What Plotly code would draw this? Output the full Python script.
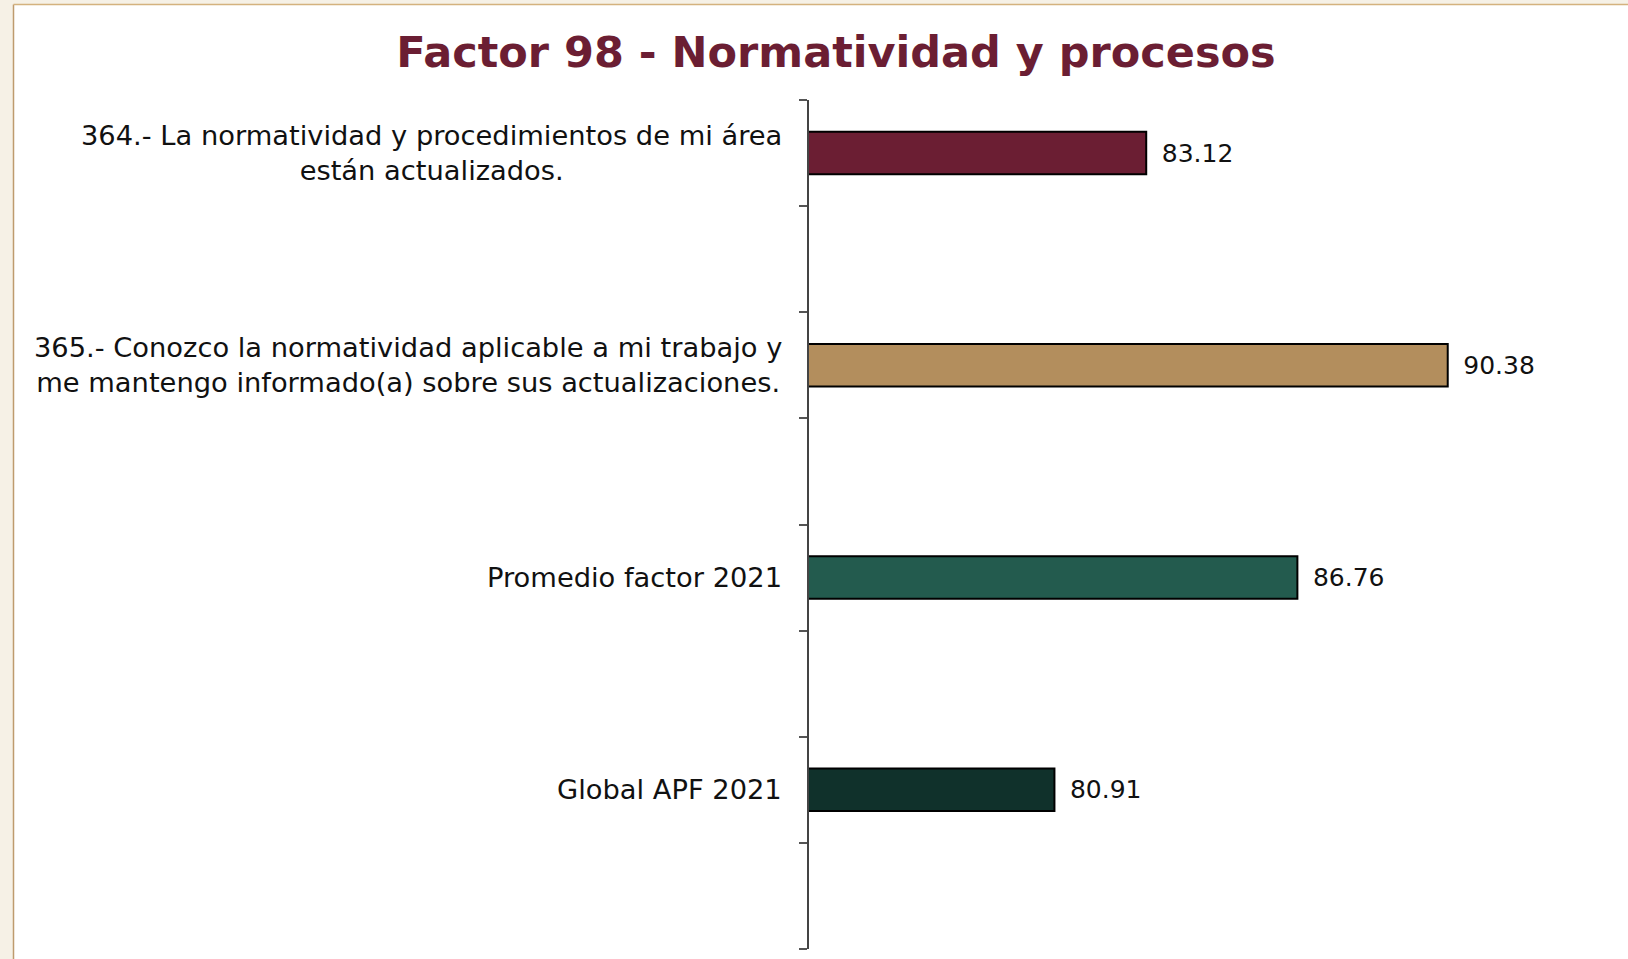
import plotly.graph_objects as go

categories = [
    "364.- La normatividad y procedimientos de mi área<br>están actualizados.",
    "365.- Conozco la normatividad aplicable a mi trabajo y<br>me mantengo informado(a) sobre sus actualizaciones.",
    "Promedio factor 2021",
    "Global APF 2021",
]
values = [83.12, 90.38, 86.76, 80.91]
colors = ["#6B1E33", "#B38E5D", "#235B4E", "#10312B"]
title_text = "Factor 98 - Normatividad y procesos"

W, H = 1628, 959
L, R, T, B = 809, 30, 100, 10
FONT = "DejaVu Sans"

positions = list(range(len(categories)))
minor_ticks = [p - 0.25 for p in positions] + [p + 0.25 for p in positions] + [positions[-1] + 0.75]

fig = go.Figure()
fig.add_trace(go.Bar(
    x=values, y=positions, orientation="h",
    width=0.2,
    marker=dict(color=colors, line=dict(color="#000000", width=2)),
    text=["\u2002" + f"{v:.2f}" for v in values],
    textposition="outside",
    textfont=dict(family=FONT, size=25, color="#111111"),
    cliponaxis=False,
    hoverinfo="skip",
))

for p, c in zip(positions, categories):
    fig.add_annotation(
        x=0, xref="paper", y=p, yref="y",
        text=c, showarrow=False, xanchor="right", yanchor="middle",
        align="center", xshift=-25,
        font=dict(family=FONT, size=27.3, color="#111111"),
    )

pw = W - L - R
def px(xpix):
    return (xpix - L) / pw
def py(ypix):
    ph = H - T - B
    return 1 - (ypix - T) / ph

shapes = [
    dict(type="rect", xref="paper", yref="paper", x0=px(0), x1=px(13), y0=py(H), y1=py(0),
         fillcolor="#F6F1E6", line=dict(width=0), layer="below"),
    dict(type="rect", xref="paper", yref="paper", x0=px(0), x1=px(W), y0=py(4), y1=py(0),
         fillcolor="#F6F1E6", line=dict(width=0), layer="below"),
    dict(type="line", xref="paper", yref="paper", x0=px(13.5), x1=px(13.5), y0=py(H), y1=py(4.5),
         line=dict(color="#BE9B6E", width=1.5)),
    dict(type="line", xref="paper", yref="paper", x0=px(13.5), x1=px(W), y0=py(4.5), y1=py(4.5),
         line=dict(color="#D4B27E", width=1.5)),
]

fig.update_layout(
    width=W, height=H,
    margin=dict(l=L, r=R, t=T, b=B, pad=0),
    paper_bgcolor="#FFFFFF", plot_bgcolor="#FFFFFF",
    showlegend=False,
    shapes=shapes,
    title=dict(
        text=f"<b>{title_text}</b>", x=836 / W, xanchor="center",
        y=1 - 52 / H, yanchor="middle", yref="container",
        font=dict(family=FONT, size=43, color="#6B1E33"),
    ),
    xaxis=dict(range=[75, 75 + pw / 41.53], showline=False, showgrid=False, zeroline=False,
               showticklabels=False, ticks="", fixedrange=True),
    yaxis=dict(range=[positions[-1] + 0.75, positions[0] - 0.25], autorange=False,
               showline=True, linecolor="#444444", linewidth=1.5,
               showgrid=False, zeroline=False, showticklabels=False,
               tickmode="array", tickvals=positions, ticks="",
               minor=dict(tickmode="array", tickvals=minor_ticks, ticks="outside",
                          ticklen=8, tickcolor="#555555", tickwidth=1.5, showgrid=False)),
)

fig.write_html(
    "out.html",
    config={"displayModeBar": False},
    post_script="document.body.style.margin='0';document.body.style.overflow='hidden';",
)
